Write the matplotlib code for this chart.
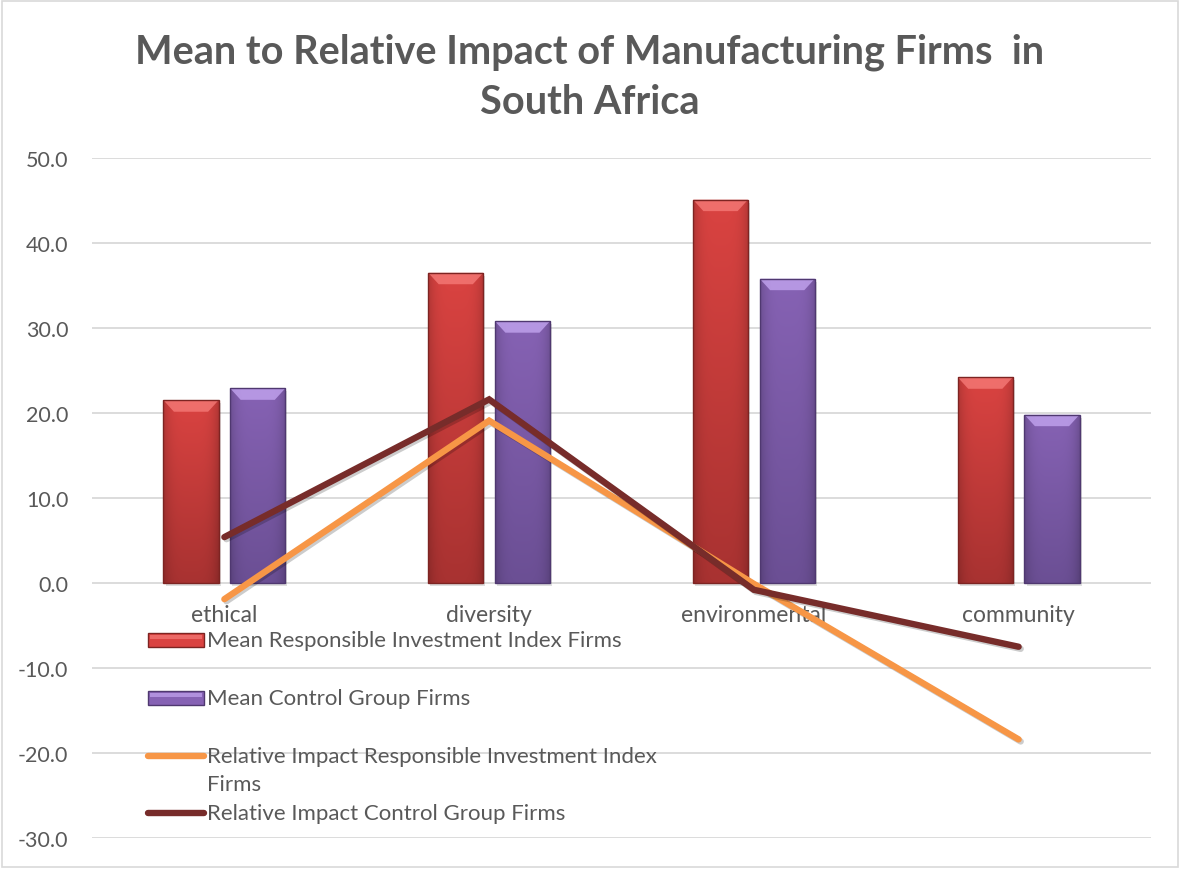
import numpy as np
import matplotlib
matplotlib.use("Agg")
import matplotlib.pyplot as plt
from matplotlib.patches import Rectangle, Polygon
from matplotlib.lines import Line2D
from matplotlib.colors import to_rgb
import matplotlib.patheffects as pe

plt.rcParams['font.family'] = ['Lato', 'DejaVu Sans']

categories = ["ethical", "diversity", "environmental", "community"]
mean_rii = [21.5, 36.5, 45.1, 24.2]
mean_control = [22.9, 30.8, 35.8, 19.8]
rel_rii = [-1.9, 19.1, -0.1, -18.4]
rel_control = [5.4, 21.6, -0.8, -7.5]
yticks = [50, 40, 30, 20, 10, 0, -10, -20, -30]

series_labels = [
    "Mean Responsible Investment Index Firms",
    "Mean Control Group Firms",
    "Relative Impact Responsible Investment Index\nFirms",
    "Relative Impact Control Group Firms",
]

RED_TOP, RED_BOT, RED_EDGE, RED_BEVEL = "#da4341", "#a83231", "#7d2422", "#f57a77"
PUR_TOP, PUR_BOT, PUR_EDGE, PUR_BEVEL = "#8662b4", "#6b4f94", "#4f3870", "#c2a4ef"
ORANGE = "#f79646"
DARKRED = "#772c2a"
TEXT = "#595959"
GRID = "#d9d9d9"

fig = plt.figure(figsize=(11.8, 8.7), dpi=100)
fig.patches.append(Rectangle((0.0015, 0.002), 0.997, 0.996, transform=fig.transFigure,
                             fill=False, edgecolor=GRID, linewidth=1.2))

ax = fig.add_axes([92 / 1180, 1 - 839 / 870, (1151 - 92) / 1180, (839 - 159) / 870])
ax.set_xlim(-0.5, len(categories) - 0.5)
ax.set_ylim(-30, 50)
for s in ax.spines.values():
    s.set_visible(False)
ax.set_yticks(yticks)
ax.set_yticklabels([f"{v:.1f}" for v in yticks], color=TEXT, fontsize=15.5)
ax.tick_params(axis='y', length=0, pad=17)
ax.set_xticks([])
ax.yaxis.grid(True, color=GRID, linewidth=1.3)
ax.set_axisbelow(True)

x = np.arange(len(categories))
width = 0.208
offset = 0.126


def shaded_image(top, bot):
    """RGB image: vertical gradient from bot to top, slightly darker at the sides."""
    t = np.linspace(0, 1, 200).reshape(-1, 1, 1)
    c = np.array(to_rgb(bot)) * (1 - t) + np.array(to_rgb(top)) * t
    side = np.abs(np.linspace(-1, 1, 60)).reshape(1, -1, 1) ** 4
    img = c * (1 - 0.18 * side)
    return np.clip(img, 0, 1)


def bevel_bars(bars, top, bot, edge, bevel):
    """Give each bar a gradient fill, a light bevel at the top and a soft shadow."""
    img = shaded_image(top, bot)
    for b in bars:
        bx, by, bw, bh = b.get_x(), b.get_y(), b.get_width(), b.get_height()
        sh = Rectangle((bx + 0.008, by - 0.35), bw, bh, facecolor="#000000", alpha=0.13,
                       edgecolor="none", zorder=1.5)
        ax.add_patch(sh)
        im = ax.imshow(img, extent=(bx, bx + bw, by, by + bh), origin="lower",
                       aspect="auto", zorder=2, interpolation="bilinear")
        im.set_clip_path(b)
        bev_h = min(1.35, bh * 0.3)
        inset = bw * 0.19
        top_y = by + bh
        ax.add_patch(Polygon([(bx, top_y), (bx + bw, top_y),
                              (bx + bw - inset, top_y - bev_h), (bx + inset, top_y - bev_h)],
                             closed=True, facecolor=bevel, edgecolor="none", alpha=0.8,
                             zorder=2.2))
        b.set_facecolor("none")
        b.set_edgecolor(edge)
        b.set_linewidth(1.0)
        b.set_zorder(2.3)


bars1 = ax.bar(x - offset, mean_rii, width)
bars2 = ax.bar(x + offset, mean_control, width)
bevel_bars(bars1, RED_TOP, RED_BOT, RED_EDGE, RED_BEVEL)
bevel_bars(bars2, PUR_TOP, PUR_BOT, PUR_EDGE, PUR_BEVEL)

shadow = [pe.SimpleLineShadow(offset=(1.5, -1.5), alpha=0.2), pe.Normal()]
ax.plot(x, rel_rii, color=ORANGE, linewidth=4.6, solid_capstyle="round",
        solid_joinstyle="miter", zorder=4, path_effects=shadow)
ax.plot(x, rel_control, color=DARKRED, linewidth=4.6, solid_capstyle="round",
        solid_joinstyle="miter", zorder=4.1, path_effects=shadow)

# category labels sit just under the zero line
for xi, name in zip(x, categories):
    ax.text(xi, -3.65, name, ha="center", va="center", fontsize=16.5, color=TEXT, zorder=3)

# legend drawn inside the plot area
leg_rows = [641, 699, 757, 814]
handle_x0, handle_x1 = 148 / 1180, 204 / 1180
text_x = 207 / 1180
kinds = [("bar", RED_TOP, RED_EDGE, RED_BEVEL), ("bar", PUR_TOP, PUR_EDGE, PUR_BEVEL),
         ("line", ORANGE, None, None), ("line", DARKRED, None, None)]
for yy, label, (kind, col, ec, bev) in zip(leg_rows, series_labels, kinds):
    yf = 1 - yy / 870
    if kind == "bar":
        h = 14 / 870
        fig.patches.append(Rectangle((handle_x0, yf - h / 2), handle_x1 - handle_x0, h,
                                     transform=fig.transFigure, facecolor=col,
                                     edgecolor=ec, linewidth=1.0, zorder=5))
        fig.patches.append(Rectangle((handle_x0 + 0.002, yf + h * 0.05), handle_x1 - handle_x0 - 0.004,
                                     h * 0.3, transform=fig.transFigure, facecolor=bev,
                                     edgecolor="none", alpha=0.7, zorder=5.1))
    else:
        fig.add_artist(Line2D([handle_x0, handle_x1], [yf, yf], transform=fig.transFigure,
                              color=col, linewidth=4.6, solid_capstyle="round", zorder=5))
    if "\n" in label:
        fig.text(text_x, 1 - (yy + 14) / 870, label, ha="left", va="center",
                 fontsize=16, color=TEXT, linespacing=1.45)
    else:
        fig.text(text_x, yf, label, ha="left", va="center", fontsize=16, color=TEXT)

fig.text(0.5, 1 - 52 / 870, "Mean to Relative Impact of Manufacturing Firms  in",
         ha="center", va="center", fontsize=28.5, fontweight="bold", color=TEXT)
fig.text(0.5, 1 - 102 / 870, "South Africa",
         ha="center", va="center", fontsize=28.5, fontweight="bold", color=TEXT)

fig.savefig("out.png", dpi=100)
